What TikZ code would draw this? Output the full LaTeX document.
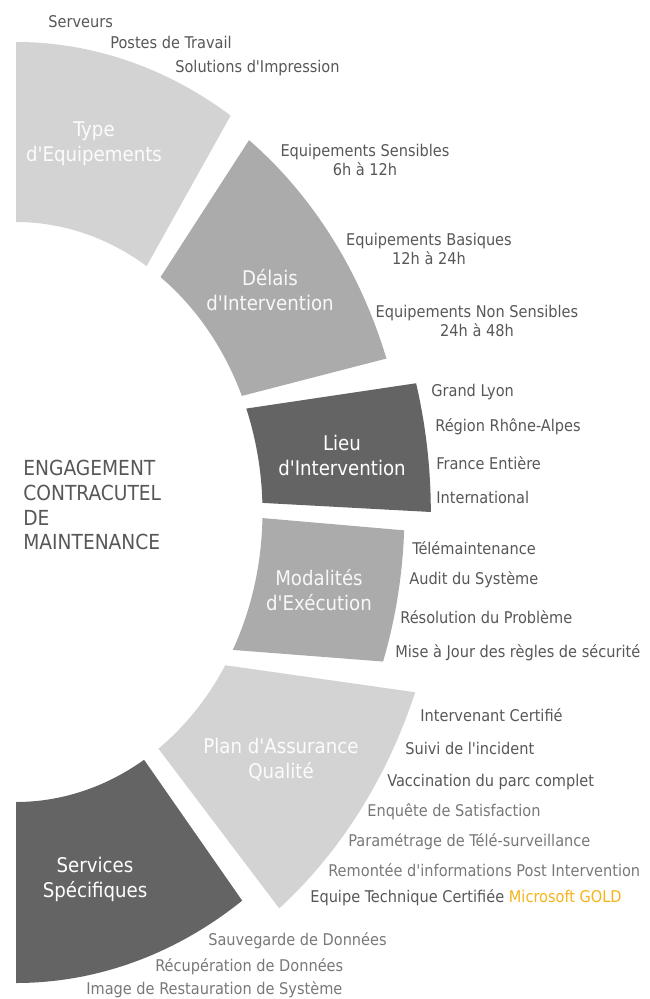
\documentclass[tikz,border=0pt]{standalone}
\usepackage{fontspec}
\setmainfont{DejaVu Sans Condensed}[Ligatures=TeXOff]
\usepackage{xcolor}

\definecolor{lightpart}{HTML}{D3D3D3}
\definecolor{midpart}{HTML}{ABABAB}
\definecolor{darkpart}{HTML}{646464}
\definecolor{itemgray}{HTML}{575757}
\definecolor{palegray}{HTML}{787878}
\definecolor{goldtext}{HTML}{F5B31A}

\tikzset{
  partlabel/.style={align=center, inner sep=0pt, font=\fontsize{11.5}{14.2}\selectfont, text=white},
  item/.style={anchor=west, inner sep=0pt, font=\fontsize{9.2}{11}\selectfont, text=itemgray},
  delay/.style={align=center, inner sep=0pt, font=\fontsize{9.2}{10.4}\selectfont, text=itemgray},
}

\begin{document}
\begin{tikzpicture}[x=0.02cm, y=-0.02cm]
  \useasboundingbox (0,0) rectangle (649,999);

  % ring parts: colour / inner start / inner end / outer start / outer end / outer radius
  \begin{scope}[shift={(16,512)}, xscale=0.85]
    \foreach \col/\ai/\aj/\ao/\ap/\ro in {
        lightpart/-90/-58/-90/-57.5/470,
        midpart/-54.1/-23.6/-53.6/-19.4/462,
        darkpart/-20.9/-1.8/-15.3/0/488,
        midpart/1.2/28.4/2.3/19.1/457,
        lightpart/31.9/54.7/21/52/503,
        darkpart/58.7/90/55.6/90/471}
      \fill[\col] (\ai:290) -- (\ao:\ro) arc[start angle=\ao, end angle=\ap, radius=\ro]
        -- (\aj:290) arc[start angle=\aj, end angle=\ai, radius=290] -- cycle;
  \end{scope}

  % labels inside the ring
  \node[partlabel, text=white!94!lightpart](type) at (94,144) {Type\\d'Equipements};
  \node[partlabel, text=white!92!midpart](delais) at (270,290) {Délais\\d'Intervention};
  \node[partlabel](lieu) at (342,455) {Lieu\\d'Intervention};
  \node[partlabel, text=white!92!midpart](modalites) at (319,590) {Modalités\\d'Exécution};
  \node[partlabel, text=white!94!lightpart](plan) at (281,760) {Plan d'Assurance\\Qualité};
  \node[partlabel](services) at (95,879) {Services\\Spécifiques};

  \node[partlabel, align=left, anchor=west, text=itemgray, font=\fontsize{11.8}{14.2}\selectfont](engagement) at (23,505)
    {ENGAGEMENT\\CONTRACUTEL\\DE\\MAINTENANCE};

  % type d'equipements
  \node[item](serveurs) at (48,22) {Serveurs};
  \node[item](postes) at (110,42) {Postes de Travail};
  \node[item](impression) at (175,68) {Solutions d'Impression};

  % delais
  \node[delay](sensibles) at (365,160) {Equipements Sensibles\\6h à 12h};
  \node[delay](basiques) at (429,249) {Equipements Basiques\\12h à 24h};
  \node[delay](nonsensibles) at (477,321) {Equipements Non Sensibles\\24h à 48h};

  % lieu
  \node[item](lyon) at (431,392) {Grand Lyon};
  \node[item](rhone) at (435,427) {Région Rhône-Alpes};
  \node[item](france) at (436,463) {France Entière};
  \node[item](inter) at (436,497) {International};

  % modalites
  \node[item](tele) at (412,548) {Télémaintenance};
  \node[item](audit) at (409,580) {Audit du Système};
  \node[item](resolution) at (400,617) {Résolution du Problème};
  \node[item](securite) at (395,653) {Mise à Jour des règles de sécurité};

  % plan d'assurance qualite
  \node[item](certifie) at (420,715) {Intervenant Certifié};
  \node[item](suivi) at (405,748) {Suivi de l'incident};
  \node[item](vaccin) at (387,782) {Vaccination du parc complet};
  \node[item, text=palegray](enquete) at (367,812) {Enquête de Satisfaction};
  \node[item, text=palegray](parametrage) at (348,842) {Paramétrage de Télé-surveillance};
  \node[item, text=palegray](remontee) at (328,870) {Remontée d'informations Post Intervention};
  \node[item](equipe) at (310,898) {Equipe Technique Certifiée \textcolor{goldtext}{Microsoft GOLD}};

  % services specifiques
  \node[item, text=palegray](sauvegarde) at (208,941) {Sauvegarde de Données};
  \node[item, text=palegray](recuperation) at (155,967) {Récupération de Données};
  \node[item, text=palegray](image) at (86,990) {Image de Restauration de Système};
\end{tikzpicture}
\end{document}
